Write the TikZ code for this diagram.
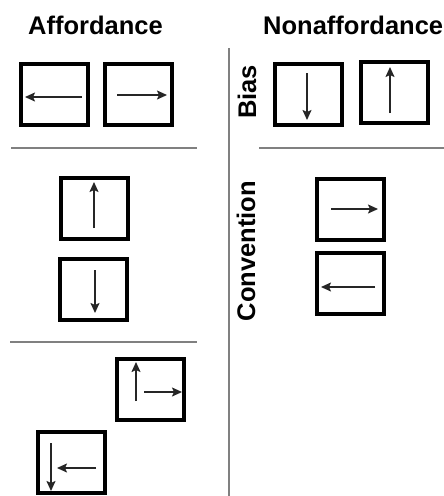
\documentclass[tikz,border=0pt]{standalone}
\usepackage{fontspec}
\setmainfont{Liberation Sans}
\usetikzlibrary{arrows.meta}
\begin{document}
\begin{tikzpicture}[x=1pt,y=-1pt,
  card/.style={draw=black,line width=4pt,inner sep=0pt,minimum width=67pt,minimum height=61pt},
  arr/.style={draw=black!85,line width=1.6pt,-{Stealth[length=10pt,width=9pt,inset=2pt]}},
  sep/.style={draw=black!50,line width=1.5pt},
  title/.style={inner sep=0pt,font=\fontsize{25.5}{30}\selectfont\bfseries},
  side/.style={inner sep=0pt,rotate=90,font=\fontsize{25.5}{30}\selectfont\bfseries}]
\useasboundingbox[fill=white] (0,0) rectangle (444,496);
% titles
\node[title,anchor=base west] (taff) at (28,34) {Affordance};
\node[title,anchor=base west] (tnon) at (263,34) {Nonaffordance};
\node[side] (tbias) at (247,92) {Bias};
\node[side] (tconv) at (246,251) {Convention};
% separators
\coordinate (l1a) at (11,148); \coordinate (l1b) at (197,148);
\coordinate (l2a) at (10,342); \coordinate (l2b) at (197,342);
\coordinate (l3a) at (259,148); \coordinate (l3b) at (444,148);
\coordinate (v1a) at (229,48); \coordinate (v1b) at (229,496);
\draw[sep] (l1a) -- (l1b);
\draw[sep] (l2a) -- (l2b);
\draw[sep] (l3a) -- (l3b);
\draw[sep] (v1a) -- (v1b);
% boxes
\node[card] (b1) at (54.5,94) {};
\node[card] (b2) at (138.5,94) {};
\node[card] (b3) at (94,208) {};
\node[card] (b4) at (93,289) {};
\node[card] (b5) at (308,94) {};
\node[card] (b6) at (394,92.5) {};
\node[card] (b7) at (350,209.5) {};
\node[card] (b8) at (350.5,283.5) {};
\node[card] (b9) at (150.5,389.5) {};
\node[card] (b10) at (71,462.5) {};
% arrows
\draw[arr] (82,97) -- (25,97);
\draw[arr] (117,95) -- (167,95);
\draw[arr] (94,228) -- (94,182);
\draw[arr] (95,270) -- (95,313);
\draw[arr] (307,73) -- (307,120);
\draw[arr] (390,113) -- (390,67);
\draw[arr] (331,209) -- (378,209);
\draw[arr] (375,287) -- (321,287);
\draw[arr] (136,401) -- (136,362);
\draw[arr] (144,392) -- (182,392);
\draw[arr] (51,443) -- (51,491);
\draw[arr] (96,468) -- (57,468);
\end{tikzpicture}
\end{document}
